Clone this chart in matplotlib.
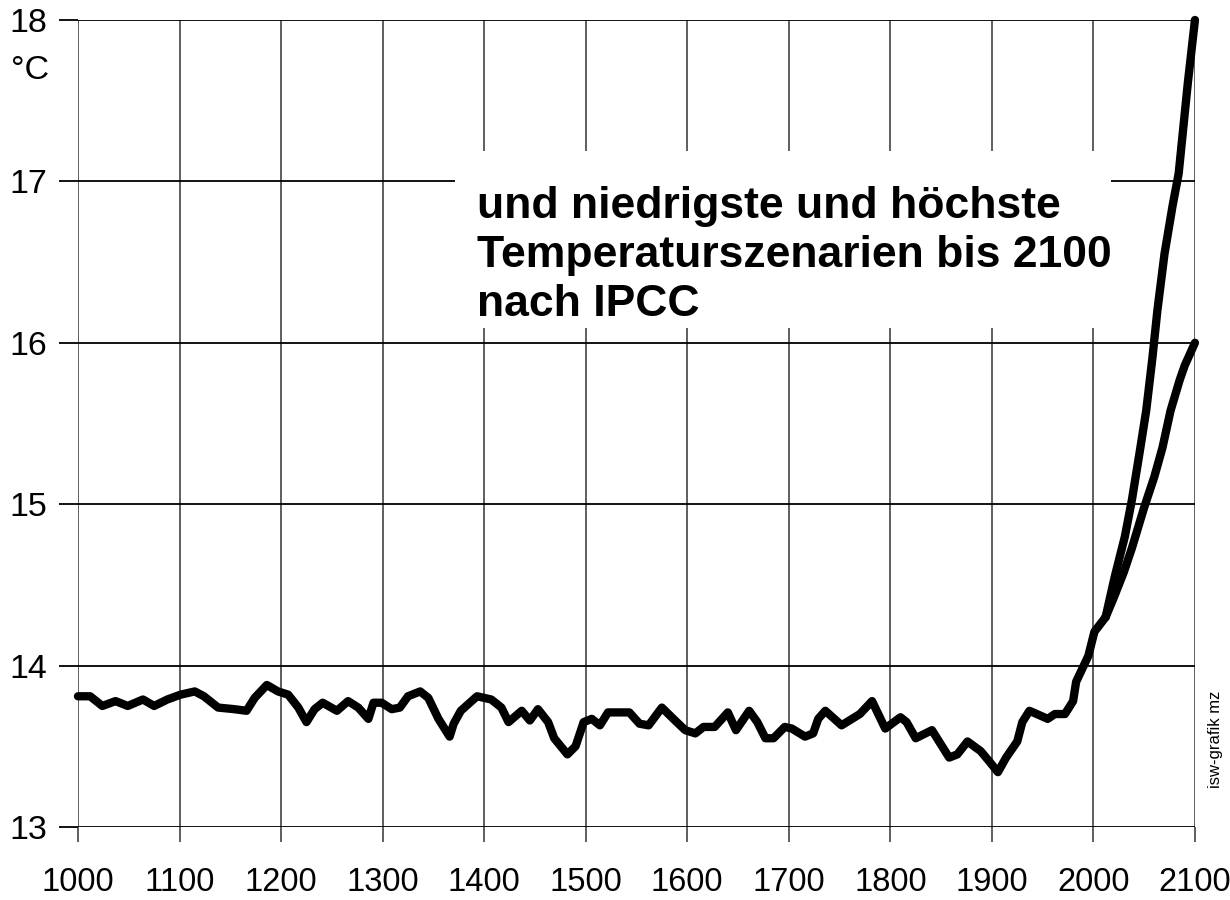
import matplotlib.pyplot as plt
from matplotlib.patches import Rectangle

plt.rcParams['font.family'] = ['Liberation Sans', 'DejaVu Sans']

# reconstructed mean temperature, year 1000 - 2012
years = [1000, 1012, 1024, 1037, 1049, 1064, 1075, 1088, 1101, 1115, 1124, 1138,
         1154, 1166, 1174, 1186, 1197, 1207, 1217, 1225, 1233, 1241, 1255, 1266,
         1276, 1286, 1291, 1299, 1309, 1317, 1325, 1337, 1345, 1355, 1366, 1370,
         1377, 1393, 1407, 1417, 1424, 1437, 1445, 1453, 1463, 1469, 1482, 1490,
         1498, 1506, 1514, 1522, 1543, 1553, 1562, 1575, 1588, 1598, 1608, 1616,
         1627, 1640, 1648, 1661, 1669, 1677, 1685, 1696, 1703, 1716, 1724, 1729,
         1736, 1752, 1770, 1782, 1795, 1810, 1816, 1825, 1841, 1858, 1866, 1876,
         1889, 1897, 1906, 1914, 1925, 1930, 1937, 1955, 1962, 1972, 1980, 1983,
         1995, 2001, 2012]
temps = [13.81, 13.81, 13.75, 13.78, 13.75, 13.79, 13.75, 13.79, 13.82, 13.84, 13.81, 13.74,
         13.73, 13.72, 13.80, 13.88, 13.84, 13.82, 13.74, 13.65, 13.73, 13.77, 13.72, 13.78,
         13.74, 13.67, 13.77, 13.77, 13.73, 13.74, 13.81, 13.84, 13.80, 13.67, 13.56, 13.64,
         13.72, 13.81, 13.79, 13.74, 13.65, 13.72, 13.66, 13.73, 13.65, 13.55, 13.45, 13.50,
         13.65, 13.67, 13.63, 13.71, 13.71, 13.64, 13.63, 13.74, 13.66, 13.60, 13.58, 13.62,
         13.62, 13.71, 13.60, 13.72, 13.65, 13.55, 13.55, 13.62, 13.61, 13.56, 13.58, 13.67,
         13.72, 13.63, 13.70, 13.78, 13.61, 13.68, 13.65, 13.55, 13.60, 13.43, 13.45, 13.53,
         13.47, 13.41, 13.34, 13.43, 13.53, 13.65, 13.72, 13.67, 13.70, 13.70, 13.78, 13.90,
         14.06, 14.21, 14.30]

# IPCC scenarios
high_years = [2012, 2021, 2031, 2038, 2046, 2052, 2058, 2063, 2070, 2078, 2084, 2088, 2093, 2100]
high_temps = [14.30, 14.55, 14.80, 15.03, 15.34, 15.58, 15.90, 16.20, 16.55, 16.85, 17.05,
              17.30, 17.61, 18.0]
low_years = [2012, 2020, 2030, 2038, 2050, 2060, 2068, 2076, 2085, 2090, 2100]
low_temps = [14.30, 14.42, 14.58, 14.73, 14.98, 15.17, 15.35, 15.58, 15.77, 15.86, 16.0]

x_ticks = list(range(1000, 2101, 100))
y_ticks = [13, 14, 15, 16, 17, 18]

fig = plt.figure(figsize=(12.3, 9), dpi=100)
ax = fig.add_axes([0.0634, 0.0811, 0.9081, 0.8967])
ax.set_xlim(1000, 2100)
ax.set_ylim(13, 18)

for s in ax.spines.values():
    s.set_visible(False)

# grid drawn by hand so it can be covered by the white title box
for x in x_ticks:
    ax.axvline(x, color='#333333', lw=1.1, zorder=1)
for y in y_ticks:
    ax.axhline(y, color='black', lw=1.3, zorder=1)

ax.set_xticks(x_ticks)
ax.set_yticks(y_ticks)
ax.tick_params(axis='x', direction='out', length=11, width=1.1, color='#333333',
               pad=18, labelsize=23.5)
ax.tick_params(axis='y', direction='out', length=14, width=1.3, color='black',
               pad=8, labelsize=24.5)

ax.add_patch(Rectangle((1371, 16.09), 646, 1.10, facecolor='white',
                       edgecolor='none', zorder=2))
ax.text(1393, 16.97, 'und niedrigste und höchste\nTemperaturszenarien bis 2100\nnach IPCC',
        fontsize=32, fontweight='bold', va='top', ha='left',
        linespacing=1.25, zorder=3)

kw = dict(color='black', lw=6, solid_joinstyle='round', solid_capstyle='round',
          zorder=4, clip_on=False)
ax.plot(years, temps, **kw)
ax.plot(high_years, high_temps, **kw)
ax.plot(low_years, low_temps, **kw)

fig.text(0.009, 0.922, '°C', fontsize=24.5, va='center', ha='left')
fig.text(0.988, 0.178, 'isw-grafik mz', fontsize=12, rotation=90,
         va='center', ha='center')

fig.savefig('out.png', dpi=100)
